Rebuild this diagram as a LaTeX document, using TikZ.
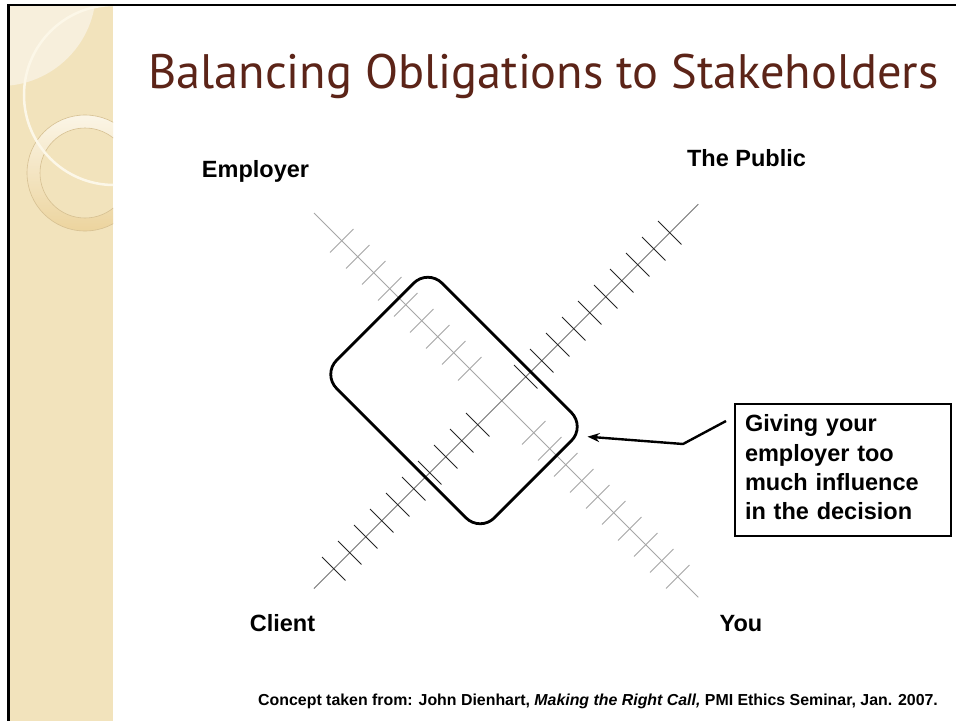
\documentclass[tikz,border=0pt]{standalone}
\usepackage{fontspec}
\setmainfont{Liberation Sans}
\newfontfamily\titlefont{PT Sans}
\usepackage{xcolor}
\usepackage{tikz}
\usetikzlibrary{arrows.meta, positioning}

\definecolor{sidebar}{RGB}{242,227,188}
\definecolor{sidelight}{RGB}{247,239,220}
\definecolor{creamline}{RGB}{252,247,232}
\definecolor{ringlight}{RGB}{251,245,230}
\definecolor{ringdark}{RGB}{236,212,158}
\definecolor{ringedge}{RGB}{214,192,146}
\definecolor{titlebrown}{RGB}{92,36,24}

\begin{document}
\begin{tikzpicture}[
        x=1pt, y=-1pt,
        title/.style={text=titlebrown, inner sep=0pt, font=\titlefont\fontsize{48.4}{58}\selectfont},
        stakeholder/.style={inner sep=0pt, font=\fontsize{23.5}{28}\selectfont\bfseries},
        footer/.style={inner sep=0pt, font=\fontsize{15.9}{19}\selectfont\bfseries},
        employerline/.style={draw=gray!70, line width=1pt},
        employertick/.style={draw=gray!70, line width=1pt},
        publicline/.style={draw=gray!90!black, line width=1pt},
        publictick/.style={draw=black!85, line width=1pt},
        zone/.style={rectangle, draw=black, line width=2.8pt, rounded corners=20pt, rotate=-45, minimum width=223pt, minimum height=149pt, inner sep=0pt},
        callout/.style={rectangle, draw=black, line width=2pt, text width=196pt, align=left, inner xsep=10pt, minimum height=132pt, font=\fontsize{23.5}{29.3}\selectfont\bfseries},
        arrow/.style={line width=2.4pt, -{Stealth[length=12pt, width=9pt]}}
        ]

        \useasboundingbox (0,0) rectangle (956,721);
        \fill[white] (0,0) rectangle (956,721);

        \fill[sidebar] (9.5,6) rectangle (113,721);
        \begin{scope}
            \clip (9.5,6) rectangle (113,721);
            \fill[sidelight] (0,-10) circle[radius=96pt];
            \shade[even odd rule, top color=ringlight, bottom color=ringdark]
                (85,173) circle[radius=58pt] (85,173) circle[radius=45pt];
            \draw[ringedge, line width=0.6pt] (85,173) circle[radius=58pt] (85,173) circle[radius=45pt];
            \draw[creamline, line width=2.5pt] (114,95) circle[radius=90pt];
        \end{scope}
        \draw[black, line width=2pt] (7,5) -- (956,5);
        \draw[black, line width=2.7pt] (8.3,4) -- (8.3,721);

        \node (title) [title, anchor=base west] at (148,88) {Balancing Obligations to Stakeholders};

        \coordinate (mid) at (501.75,400.75);
        \draw[employerline] ([shift={(-187.75,-187.75)}]mid) -- ([shift={(196.5,196.5)}]mid);
        \foreach \k in {-10,...,-2,2,3,...,11}
            \draw[employertick] ([shift={(16*\k-11.7,16*\k+11.7)}]mid) -- ++(23.4,-23.4);
        \draw[publicline] ([shift={(-187.75,187.75)}]mid) -- ([shift={(196.5,-196.5)}]mid);
        \foreach \m in {-11,...,-2,1,2,...,10}
            \draw[publictick] ([shift={(16*\m+8-11.7,-16*\m-8-11.7)}]mid) -- ++(23.4,23.4);

        \node (employer) [stakeholder, anchor=base] at (255.5,177) {Employer};
        \node (public) [stakeholder, anchor=base] at (746.5,166.7) {The Public};
        \node (client) [stakeholder, anchor=base] at (282.5,631) {Client};
        \node (you) [stakeholder, anchor=base] at (741,631) {You};

        \node (zone) [zone] at (454,400.5) {};
        \node (note) [callout] at (843,470) {Giving your\\employer too\\much influence\\in the decision\vspace{5pt}};
        \coordinate (bend) at (683,444);
        \draw [arrow] ([shift={(-8,18)}]note.north west) -- (bend) -- ([yshift=-10pt]zone.north east);

        \node (source) [footer, anchor=base west] at (258,705) {Concept taken from: John Dienhart, \textit{Making the Right Call,} PMI Ethics Seminar, Jan. 2007.};

    \end{tikzpicture}
\end{document}
